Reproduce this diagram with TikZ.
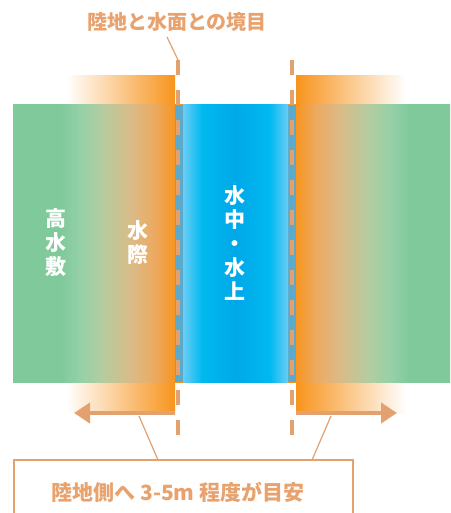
\documentclass[tikz,border=0pt]{standalone}
\usepackage{fontspec}
\newfontfamily\cjk{Noto Sans CJK JP}
\usetikzlibrary{arrows.meta}
\definecolor{lineor}{HTML}{E3A170}
\definecolor{txtor}{HTML}{E8A26E}
\definecolor{orng}{HTML}{F7941D}
\definecolor{grn}{HTML}{7FC99B}
\definecolor{lgrn}{HTML}{94D0A8}
\definecolor{midg}{HTML}{B5CCA0}
\definecolor{tan}{HTML}{DCBA85}
\definecolor{peach}{HTML}{EDA95F}
\definecolor{strip}{HTML}{5CAACB}
\definecolor{bl1}{HTML}{6ACDF5}
\definecolor{bl2}{HTML}{00B9EF}
\definecolor{bl3}{HTML}{00A8E8}
\pgfdeclarehorizontalshading{bandshade}{100bp}{%
  color(0bp)=(grn); color(25bp)=(grn); color(30.4bp)=(grn);
  color(32.6bp)=(lgrn); color(35.2bp)=(midg); color(38.7bp)=(tan);
  color(41.3bp)=(peach); color(43.6bp)=(orng); color(57.3bp)=(orng);
  color(59.6bp)=(peach); color(62.2bp)=(tan); color(65.6bp)=(midg);
  color(68.4bp)=(lgrn); color(70.4bp)=(grn); color(75bp)=(grn); color(100bp)=(grn)}
\pgfdeclarehorizontalshading{watershade}{100bp}{%
  color(0bp)=(bl1); color(25bp)=(bl1); color(34bp)=(bl2); color(50bp)=(bl3);
  color(66.4bp)=(bl2); color(75bp)=(bl1); color(100bp)=(bl1)}
\tikzset{
  lbl/.style={font=\cjk\bfseries\fontsize{20}{24}\selectfont, text=txtor, inner sep=0pt},
  vlbl/.style={font=\cjk\bfseries\fontsize{21}{24}\selectfont, text=white, align=center, inner sep=0pt},
  bound/.style={draw=lineor, line width=4pt, dash pattern=on 15pt off 15pt},
  leader/.style={draw=lineor, line width=1.2pt},
  arr/.style={draw=lineor, line width=4pt, -{Triangle[length=16pt,width=20pt]}},
}
\begin{document}
\begin{tikzpicture}[x=1pt,y=-1pt]
\useasboundingbox[fill=white] (0,0) rectangle (450,513);
% orange fades (land side)
\shade[left color=white, right color=orng] (66,76) rectangle (175,413);
\shade[left color=orng, right color=white] (296,76) rectangle (406,413);
% band
\shade[shading=bandshade] (13,105) rectangle (450,382);
% water
\fill[strip] (175,105) rectangle (183,382);
\fill[strip] (288,105) rectangle (296,382);
\shade[shading=watershade] (183,105) rectangle (288,382);
% boundary dashed lines
\coordinate (bl) at (178,60);
\coordinate (blb) at (178,435);
\coordinate (br) at (292,60);
\coordinate (brb) at (292,435);
\draw[bound] (bl) -- (blb);
\draw[bound] (br) -- (brb);
% arrows
\coordinate (al) at (175,413);
\coordinate (alt) at (74,413);
\coordinate (ar) at (296,413);
\coordinate (art) at (397,413);
\draw[arr] (al) -- (alt);
\draw[arr] (ar) -- (art);
% labels in band
\node[vlbl] (high) at (56,243) {高\\水\\敷};
\node[vlbl] (edge) at (138,243) {水\\際};
\node[vlbl] (water) at (235,243) {水\\中\\・\\水\\上};
% title
\node[lbl] (title) at (177,22) {陸地と水面との境目};
\draw[leader] (167,37) -- (bl);
% bottom box
\draw[draw=lineor, line width=2pt] (14,530) -- (14,460) -- (353,460) -- (353,530);
\node[lbl, font=\cjk\bfseries\fontsize{21}{24}\selectfont] (note) at (178,492) {陸地側へ 3-5m 程度が目安};
\coordinate (boxl) at (158,460);
\coordinate (boxr) at (312,460);
\coordinate (pl) at (139,416);
\coordinate (pr) at (331,416);
\draw[leader] (boxl) -- (pl);
\draw[leader] (boxr) -- (pr);
\end{tikzpicture}
\end{document}
